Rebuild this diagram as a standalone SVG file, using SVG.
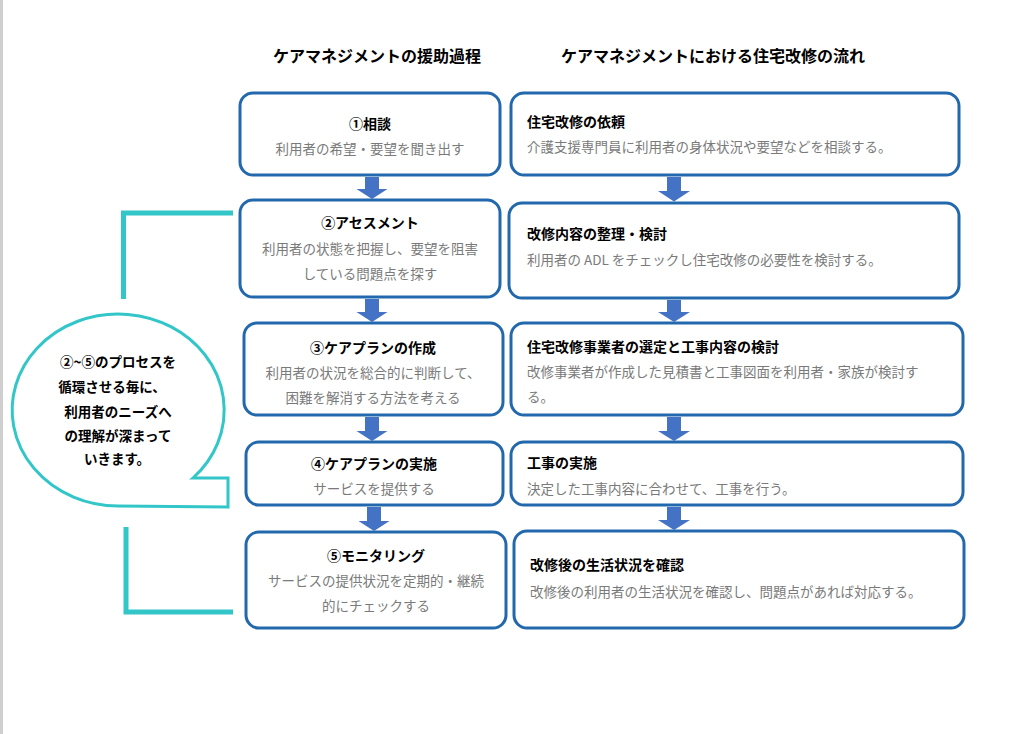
<svg xmlns="http://www.w3.org/2000/svg" width="1024" height="734" viewBox="0 0 1024 734">
<style>
.box{fill:#fff;stroke:#2268ad;stroke-width:3}
.h{font-family:"Noto Sans CJK JP","Noto Sans CJK SC",sans-serif;font-size:16px;font-weight:700;fill:#000}
.t{font-family:"Noto Sans CJK JP","Noto Sans CJK SC",sans-serif;font-size:14px;font-weight:700;fill:#000}
.s{font-family:"Noto Sans CJK JP","Noto Sans CJK SC",sans-serif;font-size:13.5px;fill:#7a7a7a}
.b{font-family:"Noto Sans CJK JP","Noto Sans CJK SC",sans-serif;font-size:13.5px;font-weight:700;fill:#000}
.c{text-anchor:middle}
.arr{fill:#4472c4}
.cy{fill:none;stroke:#33c6c8;stroke-width:5}
</style>
<rect x="0" y="0" width="1024" height="734" fill="#fff"/>
<rect x="0" y="0" width="3" height="734" fill="#cfcfcf"/>

<g id="headings">
<text class="h c" x="377" y="62">ケアマネジメントの援助過程</text>
<text class="h c" x="713" y="62">ケアマネジメントにおける住宅改修の流れ</text>
</g>

<g id="L1"><rect class="box" x="240" y="93" width="260" height="82" rx="13"/>
<text class="t c" x="370" y="129">①相談</text>
<text class="s c" x="370" y="154">利用者の希望・要望を聞き出す</text></g>
<g id="L2"><rect class="box" x="240" y="200" width="260" height="97" rx="13"/>
<text class="t c" x="370" y="228">②アセスメント</text>
<text class="s c" x="370" y="254">利用者の状態を把握し、要望を阻害</text>
<text class="s c" x="370" y="279">している問題点を探す</text></g>
<g id="L3"><rect class="box" x="244" y="323" width="259" height="92" rx="13"/>
<text class="t c" x="373" y="353">③ケアプランの作成</text>
<text class="s c" x="373" y="378">利用者の状況を総合的に判断して、</text>
<text class="s c" x="373" y="403">困難を解消する方法を考える</text></g>
<g id="L4"><rect class="box" x="246" y="442" width="257" height="63" rx="13"/>
<text class="t c" x="374" y="469">④ケアプランの実施</text>
<text class="s c" x="374" y="494">サービスを提供する</text></g>
<g id="L5"><rect class="box" x="246" y="532" width="260" height="96" rx="13"/>
<text class="t c" x="376" y="561">⑤モニタリング</text>
<text class="s c" x="376" y="586">サービスの提供状況を定期的・継続</text>
<text class="s c" x="376" y="611">的にチェックする</text></g>

<g id="R1"><rect class="box" x="511" y="93" width="448" height="82" rx="13"/>
<text class="t" x="527" y="127">住宅改修の依頼</text>
<text class="s" x="527" y="152">介護支援専門員に利用者の身体状況や要望などを相談する。</text></g>
<g id="R2"><rect class="box" x="509" y="203" width="450" height="95" rx="13"/>
<text class="t" x="527" y="239">改修内容の整理・検討</text>
<text class="s" x="527" y="265">利用者の ADL をチェックし住宅改修の必要性を検討する。</text></g>
<g id="R3"><rect class="box" x="511" y="323" width="452" height="92" rx="13"/>
<text class="t" x="527" y="352">住宅改修事業者の選定と工事内容の検討</text>
<text class="s" x="527" y="377">改修事業者が作成した見積書と工事図面を利用者・家族が検討す</text>
<text class="s" x="527" y="402">る。</text></g>
<g id="R4"><rect class="box" x="511" y="442" width="452" height="63" rx="13"/>
<text class="t" x="527" y="468">工事の実施</text>
<text class="s" x="527" y="494">決定した工事内容に合わせて、工事を行う。</text></g>
<g id="R5"><rect class="box" x="514" y="531" width="450" height="97" rx="13"/>
<text class="t" x="530" y="570">改修後の生活状況を確認</text>
<text class="s" x="530" y="597">改修後の利用者の生活状況を確認し、問題点があれば対応する。</text></g>

<g id="bubble">
<path d="M193 478 L228 478 L228 507 L118 506 A106 96 0 1 1 193 478 Z" fill="#fff" stroke="#33c6c8" stroke-width="3"/>
<text class="b c" x="118" y="367">②~⑤のプロセスを</text>
<text class="b c" x="112" y="392">循環させる毎に、</text>
<text class="b c" x="118" y="417">利用者のニーズへ</text>
<text class="b c" x="118" y="441">の理解が深まって</text>
<text class="b c" x="117" y="464">いきます。</text>
</g>

<g id="connectors">
<polygon class="arr" points="365,177 379,177 379,189 387.5,189 372,199 356.5,189 365,189"/>
<polygon class="arr" points="365,299 379,299 379,312 387.5,312 372,322 356.5,312 365,312"/>
<polygon class="arr" points="365,417 379,417 379,431 387.5,431 372,441 356.5,431 365,431"/>
<polygon class="arr" points="367,507 381,507 381,521 389.5,521 374,531 358.5,521 367,521"/>
<polygon class="arr" points="667,177 681,177 681,191 690,191 674,201.5 658,191 667,191"/>
<polygon class="arr" points="667,300 681,300 681,312 690,312 674,322 658,312 667,312"/>
<polygon class="arr" points="667,417 681,417 681,431 690,431 674,441 658,431 667,431"/>
<polygon class="arr" points="667,507 681,507 681,520 690,520 674,530 658,520 667,520"/>
<polyline class="cy" points="233,213 123.5,213 123.5,299"/>
<polyline class="cy" points="126,527 126,612 233,612"/>
</g>
</svg>
